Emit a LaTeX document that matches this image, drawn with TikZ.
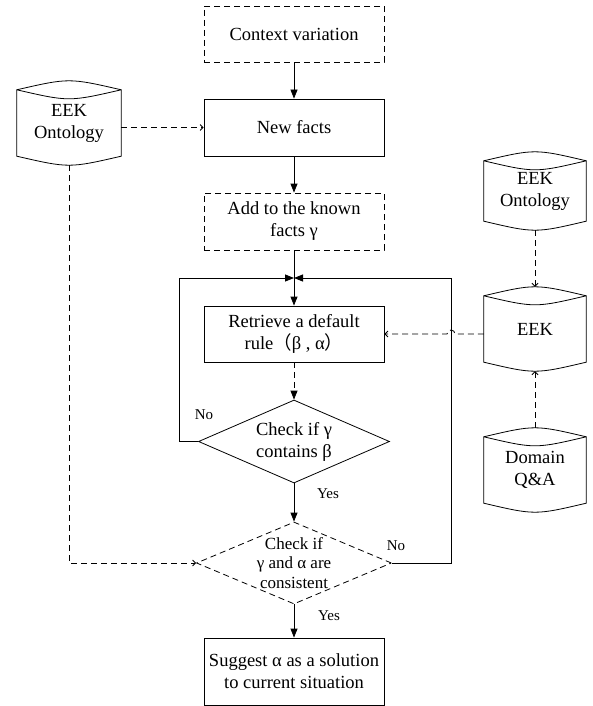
\documentclass[tikz,border=0pt]{standalone}
\usepackage{fontspec}
\setmainfont{Liberation Serif}
\newfontfamily\cjkfont{Noto Sans CJK SC}
\usetikzlibrary{arrows.meta,shapes.geometric}

\newcommand\mainsize{\fontsize{18.5}{22}\selectfont}

\tikzset{
  line/.style={line width=0.8pt, draw=black},
  dashline/.style={line, dash pattern=on 6pt off 4pt},
  box/.style={rectangle, line, minimum width=180pt, minimum height=56pt,
    align=center, inner sep=2pt, font=\mainsize},
  dbox/.style={box, dashline},
  db/.style={rectangle, minimum width=104pt, minimum height=84pt,
    align=center, inner sep=0pt, font=\mainsize},
  dia/.style={diamond, line, minimum width=191pt, minimum height=83pt, inner sep=0pt},
  diatext/.style={align=center, inner sep=0pt},
  lbl/.style={font=\fontsize{15}{18}\selectfont, inner sep=0pt},
  flow/.style={line, -{Triangle[length=9pt,width=7pt]}},
  dflow/.style={dashline, -{Triangle[length=9pt,width=7pt]}},
  link/.style={dashline, -{Straight Barb[length=3pt,width=6pt]}},
}

% outline of a stored-data (drum) shape around a named node
\newcommand\drawstore[1]{%
  \draw[line] ([yshift=-9pt]#1.north west) .. controls ([yshift=3pt]#1.north) .. ([yshift=-9pt]#1.north east)
    -- ([yshift=9pt]#1.south east) .. controls ([yshift=-3pt]#1.south) .. ([yshift=9pt]#1.south west) -- cycle;
  \draw[line] ([yshift=-9pt]#1.north west) .. controls ([yshift=-21pt]#1.north) .. ([yshift=-9pt]#1.north east);
}

\begin{document}
\begin{tikzpicture}[x=1pt,y=-1pt]
\useasboundingbox (0,0) rectangle (592,706);

% main flow
\node[dbox] (ctx) at (294,34) {Context variation};
\node[box, minimum height=57pt] (newf) at (294,127.5) {New facts};
\node[dbox, minimum height=57pt] (add) at (294,221.5) {Add to the known\\facts γ};
\node[box] (retr) at (294,334) {Retrieve a default\\rule{\cjkfont （}β , α{\cjkfont ）}};
\node[dia] (chk1) at (294,441.5) {};
\node[diatext, font=\mainsize] (chk1t) at (chk1) {Check if γ\\contains β};
\node[dia, dashline, minimum width=195pt, minimum height=82pt] (chk2) at (294,563) {};
\node[diatext, font=\fontsize{17}{19.5}\selectfont] (chk2t) at (chk2) {Check if\\γ and α are\\consistent};
\node[box, minimum height=67pt] (sugg) at (294,671.5) {Suggest α as a solution\\to current situation};

% knowledge stores
\node[db] (ont1) at (69,123) {EEK\\Ontology};
\node[db, minimum width=102pt, minimum height=78pt] (ont2) at (535,191) {EEK\\Ontology};
\node[db, minimum width=102pt] (eek) at (535,329) {EEK};
\node[db, minimum width=102pt] (dom) at (535,470) {Domain\\Q\&A};
\drawstore{ont1}
\drawstore{ont2}
\drawstore{eek}
\drawstore{dom}

% loop frame
\coordinate (join) at (294,278);
\coordinate (loopL) at (179,278);
\coordinate (loopR) at (451,278);

\draw[flow] (ctx) -- (newf);
\draw[flow] (newf) -- (add);
\draw[flow] (add) -- (retr);
\draw[dflow] (retr) -- (chk1);
\draw[flow] (chk1) -- (chk2);
\draw[flow] (chk2) -- (sugg);
\draw[flow] (chk1.west) -| (loopL) -- (join);
\draw[flow] (chk2.east) -| (loopR) -- (join);

% decision labels
\node[lbl] (no1) at (204,415) {No};
\node[lbl] (yes1) at (328,494) {Yes};
\node[lbl] (no2) at (396,546) {No};
\node[lbl] (yes2) at (329,616) {Yes};

% knowledge links
\draw[link] (ont1.east |- newf.west) -- (newf.west);
\draw[link] (ont1.south) |- (chk2.west);
\draw[link] (ont2.south) -- (eek.north);
\draw[link] (dom.north) -- (eek.south);
\path (loopR |- retr.east) coordinate (hop);
\draw[link] (eek.west |- retr.east) -- ([xshift=4pt]hop)
  arc[start angle=0, end angle=180, radius=4pt] -- (retr.east);
\end{tikzpicture}
\end{document}
